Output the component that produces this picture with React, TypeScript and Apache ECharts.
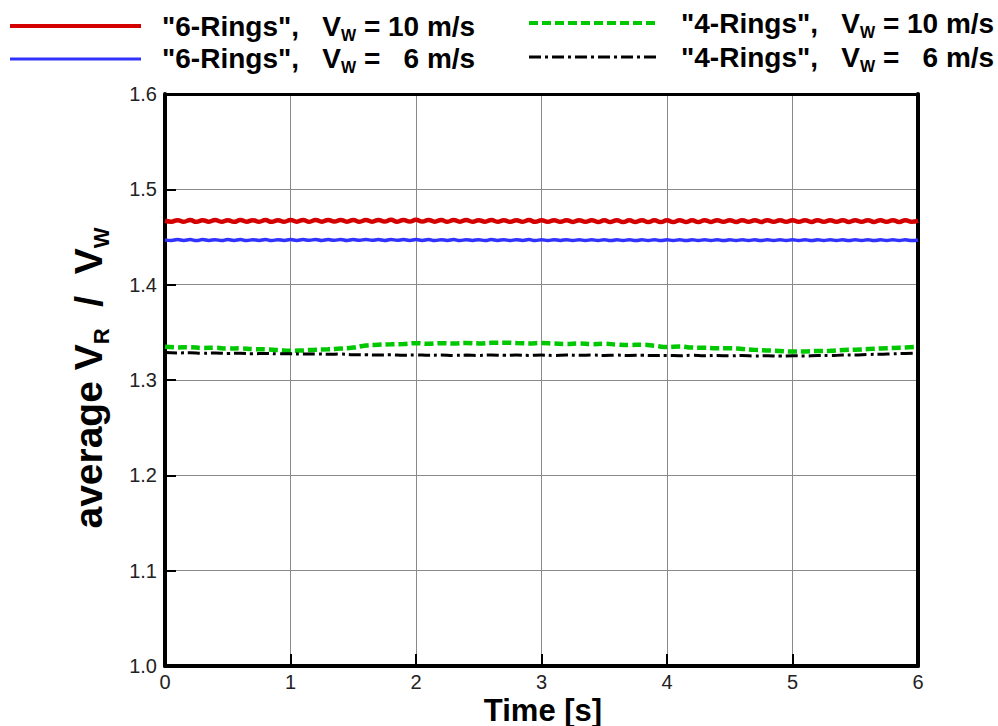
import React, { useEffect, useRef } from 'react';
import * as echarts from 'echarts';

// Sample spacing of the stored series (seconds)
const FINE_STEP = 0.05;
const COARSE_STEP = 0.1;

const xTicks = [0, 1, 2, 3, 4, 5, 6];
const yTicks = [1.0, 1.1, 1.2, 1.3, 1.4, 1.5, 1.6];

// "6-Rings", Vw = 10 m/s  (every 0.05 s)
const sixRings10 = [
  1.4670, 1.4661, 1.4677, 1.4660, 1.4678, 1.4659, 1.4677, 1.4661, 1.4678, 1.4660, 1.4677, 1.4659, 1.4678, 1.4661, 1.4677, 1.4660, 1.4678, 1.4659, 1.4677, 1.4660,
  1.4678, 1.4661, 1.4679, 1.4660, 1.4678, 1.4661, 1.4679, 1.4662, 1.4678, 1.4661, 1.4679, 1.4660, 1.4678, 1.4661, 1.4679, 1.4662, 1.4680, 1.4661, 1.4679, 1.4662,
  1.4680, 1.4662, 1.4679, 1.4661, 1.4679, 1.4660, 1.4678, 1.4661, 1.4678, 1.4660, 1.4677, 1.4661, 1.4678, 1.4660, 1.4677, 1.4659, 1.4677, 1.4660, 1.4678, 1.4659,
  1.4677, 1.4660, 1.4677, 1.4659, 1.4676, 1.4658, 1.4676, 1.4659, 1.4676, 1.4658, 1.4675, 1.4658, 1.4676, 1.4657, 1.4675, 1.4658, 1.4676, 1.4657, 1.4675, 1.4658,
  1.4675, 1.4657, 1.4676, 1.4658, 1.4675, 1.4657, 1.4676, 1.4658, 1.4676, 1.4659, 1.4676, 1.4658, 1.4677, 1.4659, 1.4676, 1.4658, 1.4677, 1.4659, 1.4676, 1.4659,
  1.4677, 1.4659, 1.4676, 1.4658, 1.4677, 1.4659, 1.4676, 1.4659, 1.4677, 1.4658, 1.4676, 1.4659, 1.4677, 1.4658, 1.4676, 1.4659, 1.4677, 1.4658, 1.4677, 1.4659,
  1.4671,
];

// "6-Rings", Vw = 6 m/s  (every 0.05 s)
const sixRings6 = [
  1.4470, 1.4464, 1.4473, 1.4464, 1.4473, 1.4463, 1.4473, 1.4464, 1.4472, 1.4463, 1.4473, 1.4464, 1.4473, 1.4463, 1.4472, 1.4464, 1.4473, 1.4463, 1.4472, 1.4464,
  1.4473, 1.4464, 1.4473, 1.4465, 1.4474, 1.4464, 1.4473, 1.4465, 1.4474, 1.4464, 1.4473, 1.4465, 1.4474, 1.4465, 1.4473, 1.4464, 1.4474, 1.4465, 1.4473, 1.4464,
  1.4473, 1.4464, 1.4473, 1.4463, 1.4472, 1.4464, 1.4473, 1.4463, 1.4472, 1.4464, 1.4472, 1.4463, 1.4473, 1.4464, 1.4472, 1.4463, 1.4472, 1.4464, 1.4473, 1.4463,
  1.4472, 1.4463, 1.4472, 1.4464, 1.4472, 1.4463, 1.4472, 1.4463, 1.4471, 1.4463, 1.4472, 1.4462, 1.4471, 1.4463, 1.4472, 1.4462, 1.4471, 1.4463, 1.4472, 1.4462,
  1.4471, 1.4463, 1.4472, 1.4462, 1.4471, 1.4463, 1.4472, 1.4463, 1.4472, 1.4462, 1.4471, 1.4463, 1.4472, 1.4463, 1.4471, 1.4462, 1.4472, 1.4463, 1.4472, 1.4463,
  1.4472, 1.4463, 1.4472, 1.4462, 1.4471, 1.4463, 1.4472, 1.4463, 1.4471, 1.4462, 1.4472, 1.4463, 1.4472, 1.4462, 1.4471, 1.4463, 1.4472, 1.4463, 1.4471, 1.4462,
  1.4468,
];

// "4-Rings", Vw = 10 m/s  (every 0.1 s)
const fourRings10 = [
  1.3348, 1.3342, 1.3344, 1.3336, 1.3338, 1.3330, 1.3332, 1.3324, 1.3322, 1.3314,
  1.3306, 1.3310, 1.3318, 1.3322, 1.3330, 1.3340, 1.3362, 1.3370, 1.3374, 1.3378,
  1.3386, 1.3380, 1.3386, 1.3382, 1.3388, 1.3384, 1.3390, 1.3392, 1.3388, 1.3384,
  1.3388, 1.3382, 1.3378, 1.3384, 1.3376, 1.3380, 1.3372, 1.3368, 1.3370, 1.3360,
  1.3346, 1.3352, 1.3340, 1.3338, 1.3332, 1.3334, 1.3326, 1.3316, 1.3310, 1.3304,
  1.3298, 1.3300, 1.3304, 1.3306, 1.3314, 1.3318, 1.3324, 1.3330, 1.3336, 1.3342,
  1.3348,
];

// "4-Rings", Vw = 6 m/s  (every 0.1 s)
const fourRings6 = [
  1.3288, 1.3284, 1.3286, 1.3280, 1.3283, 1.3278, 1.3281, 1.3276, 1.3279, 1.3274,
  1.3276, 1.3272, 1.3274, 1.3270, 1.3272, 1.3266, 1.3264, 1.3262, 1.3264, 1.3260,
  1.3263, 1.3259, 1.3262, 1.3258, 1.3261, 1.3258, 1.3262, 1.3259, 1.3262, 1.3258,
  1.3261, 1.3258, 1.3262, 1.3259, 1.3262, 1.3258, 1.3261, 1.3257, 1.3260, 1.3256,
  1.3258, 1.3255, 1.3259, 1.3254, 1.3258, 1.3253, 1.3257, 1.3252, 1.3255, 1.3251,
  1.3254, 1.3252, 1.3257, 1.3256, 1.3261, 1.3262, 1.3268, 1.3270, 1.3275, 1.3278,
  1.3282,
];

const FONT = '"Liberation Sans", Arial, Helvetica, sans-serif';
const RED = '#d40000';
const BLUE = '#3232ff';
const GREEN = '#00c800';
const BLACK = '#000000';
const GREEN_DASH = [9, 4];
const BLACK_DASH = [12, 4, 3, 4];

const withTime = (vals: number[], step: number) =>
  vals.map((v, i) => [Number((i * step).toFixed(2)), v]);

const NB = '\u00a0';

const legendRich = {
  m: { fontSize: 28, fontWeight: 'bold', fontFamily: FONT, lineHeight: 34, fill: '#000' },
  s: { fontSize: 16, fontWeight: 'bold', fontFamily: FONT, lineHeight: 15, verticalAlign: 'bottom', fill: '#000' },
};

const legendText = (rings: string, speed: string) =>
  `{m|"${rings}",${NB}${NB}${NB}V}{s|W}{m|${NB}=${NB}${speed}${NB}m/s}`;

export default function App() {
  const ref = useRef<HTMLDivElement>(null);

  useEffect(() => {
    document.body.style.margin = '0';
    const chart = echarts.init(ref.current!, null, { renderer: 'svg' });

    const lineSeries = (name: string, data: number[][], color: string, width: number, dash: any) => ({
      name,
      type: 'line',
      data,
      showSymbol: false,
      symbol: 'none',
      smooth: true,
      lineStyle: { color, width, type: dash },
      z: 3,
    });

    chart.setOption({
      animation: false,
      backgroundColor: '#ffffff',
      grid: { left: 165, right: 80, top: 94, bottom: 60 },
      xAxis: [
        {
          type: 'value',
          min: xTicks[0],
          max: xTicks[xTicks.length - 1],
          interval: 1,
          axisLine: { show: true, onZero: false, lineStyle: { color: '#000', width: 4 } },
          axisTick: { show: true, inside: true, length: 12, lineStyle: { color: '#000', width: 2 } },
          axisLabel: { color: '#222', fontSize: 20, fontFamily: FONT, margin: 6 },
          splitLine: { show: true, showMinLine: false, showMaxLine: false, lineStyle: { color: '#8a8a8a', width: 1 } },
        },
        {
          type: 'value',
          position: 'top',
          min: xTicks[0],
          max: xTicks[xTicks.length - 1],
          interval: 1,
          axisLine: { show: true, onZero: false, lineStyle: { color: '#000', width: 3 } },
          axisTick: { show: false },
          axisLabel: { show: false },
          splitLine: { show: false },
        },
      ],
      yAxis: [
        {
          type: 'value',
          min: yTicks[0],
          max: yTicks[yTicks.length - 1],
          interval: 0.1,
          axisLine: { show: true, onZero: false, lineStyle: { color: '#000', width: 4 } },
          axisTick: { show: true, inside: true, length: 11, lineStyle: { color: '#000', width: 2 } },
          axisLabel: {
            color: '#222',
            fontSize: 20,
            fontFamily: FONT,
            margin: 8,
            formatter: (v: number) => v.toFixed(1),
          },
          splitLine: { show: true, showMinLine: false, showMaxLine: false, lineStyle: { color: '#8a8a8a', width: 1 } },
        },
        {
          type: 'value',
          position: 'right',
          min: yTicks[0],
          max: yTicks[yTicks.length - 1],
          interval: 0.1,
          axisLine: { show: true, onZero: false, lineStyle: { color: '#000', width: 4 } },
          axisTick: { show: false },
          axisLabel: { show: false },
          splitLine: { show: false },
        },
      ],
      series: [
        lineSeries('6-Rings 10', withTime(sixRings10, FINE_STEP), RED, 4.5, 'solid'),
        lineSeries('6-Rings 6', withTime(sixRings6, FINE_STEP), BLUE, 3.5, 'solid'),
        lineSeries('4-Rings 10', withTime(fourRings10, COARSE_STEP), GREEN, 4.5, GREEN_DASH),
        lineSeries('4-Rings 6', withTime(fourRings6, COARSE_STEP), BLACK, 3, BLACK_DASH),
      ],
      graphic: [
        // legend, left column
        { type: 'line', shape: { x1: 10, y1: 26, x2: 141, y2: 26 }, style: { stroke: RED, lineWidth: 4 } },
        { type: 'line', shape: { x1: 10, y1: 59, x2: 141, y2: 59 }, style: { stroke: BLUE, lineWidth: 3 } },
        {
          type: 'text', x: 162, y: 9,
          style: { text: legendText('6-Rings', '10'), rich: legendRich, verticalAlign: 'top', align: 'left' },
        },
        {
          type: 'text', x: 162, y: 41,
          style: { text: legendText('6-Rings', `${NB}${NB}6`), rich: legendRich, verticalAlign: 'top', align: 'left' },
        },
        // legend, right column
        { type: 'line', shape: { x1: 529, y1: 23, x2: 657, y2: 23 }, style: { stroke: GREEN, lineWidth: 4, lineDash: GREEN_DASH } },
        { type: 'line', shape: { x1: 529, y1: 57, x2: 657, y2: 57 }, style: { stroke: BLACK, lineWidth: 3, lineDash: BLACK_DASH } },
        {
          type: 'text', x: 681, y: 6,
          style: { text: legendText('4-Rings', '10'), rich: legendRich, verticalAlign: 'top', align: 'left' },
        },
        {
          type: 'text', x: 681, y: 40,
          style: { text: legendText('4-Rings', `${NB}${NB}6`), rich: legendRich, verticalAlign: 'top', align: 'left' },
        },
        // axis titles
        {
          type: 'text', x: 543, y: 710,
          style: {
            text: 'Time [s]', fontSize: 31, fontWeight: 'bold', fontFamily: FONT, fill: '#000',
            align: 'center', verticalAlign: 'middle',
          },
        },
        {
          type: 'text', x: 88, y: 378, rotation: Math.PI / 2,
          style: {
            text: `{m|average${NB}V}{s|R}{m|${NB}${NB}/${NB}${NB}V}{s|W}`,
            align: 'center', verticalAlign: 'middle',
            rich: {
              m: { fontSize: 39, fontWeight: 'bold', fontFamily: FONT, lineHeight: 48, fill: '#000' },
              s: { fontSize: 22, fontWeight: 'bold', fontFamily: FONT, lineHeight: 22, verticalAlign: 'bottom', fill: '#000' },
            },
          },
        },
      ],
    });

    return () => chart.dispose();
  }, []);

  return <div ref={ref} style={{ position: 'fixed', left: 0, top: 0, width: 998, height: 726 }} />;
}
